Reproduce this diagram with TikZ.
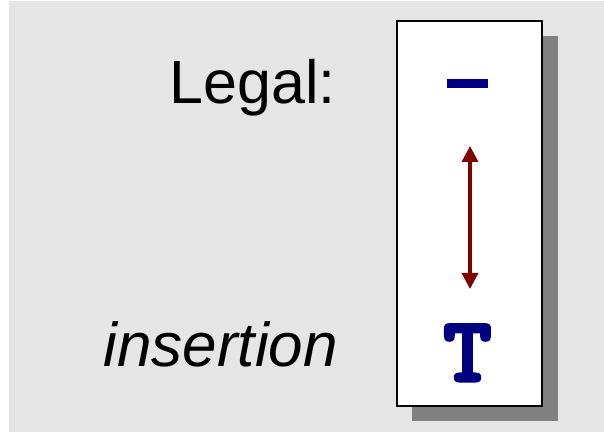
\documentclass[tikz,border=0pt]{standalone}
\usepackage{fontspec}
\setmainfont{Liberation Sans}
\newfontfamily\teefont[FakeBold=3.5]{lmmonolt10-bold.otf}
\usetikzlibrary{arrows.meta}
\definecolor{bggray}{RGB}{229,229,229}
\definecolor{shadowgray}{RGB}{128,128,128}
\definecolor{navyc}{RGB}{0,0,128}
\definecolor{darkredc}{RGB}{128,0,0}
\tikzset{
  label text/.style={anchor=base east, inner sep=0pt},
  arrowline/.style={draw=darkredc, line width=3.5bp, {Triangle[width=16bp,length=16bp]}-{Triangle[width=16bp,length=16bp]}}
}
\begin{document}
\begin{tikzpicture}[x=1bp,y=-1bp]
\fill[white] (0,0) rectangle (604,433);
\useasboundingbox (0,0) rectangle (604,433);
\fill[bggray] (9,1) rectangle (604,432);
\fill[shadowgray] (412,36) rectangle (558,421);
\draw[fill=white, line width=2bp] (397,21) rectangle (542,406);
\fill[navyc] (447,79) rectangle (488,88);
\node[label text, font=\fontsize{61bp}{70bp}\selectfont] (legal) at (336,104) {Legal:};
\node[label text, font=\fontsize{62bp}{70bp}\selectfont\itshape] (ins) at (338,366) {insertion};
\node[anchor=base, inner sep=0pt, text=navyc, font=\teefont\fontsize{92bp}{100bp}\selectfont] (tee) at (467.5,381) {T};
\coordinate (atop) at (470,146);
\coordinate (abot) at (470,289);
\draw[arrowline] (atop) -- (abot);
\end{tikzpicture}
\end{document}
